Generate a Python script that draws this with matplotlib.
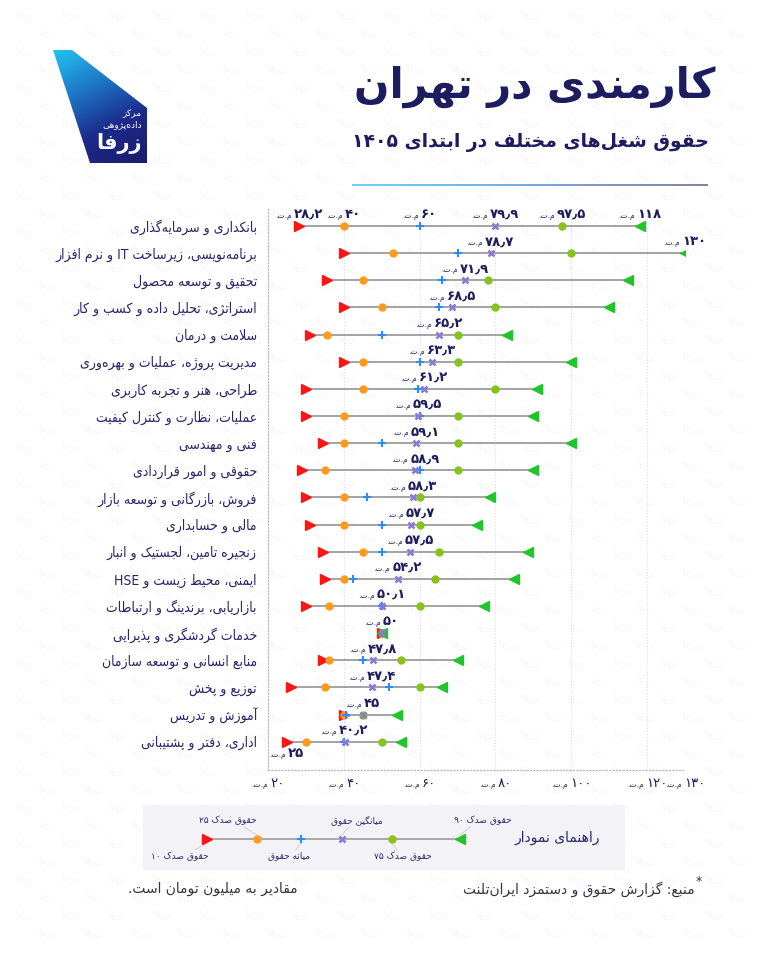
import numpy as np
import matplotlib
matplotlib.use('Agg')
import matplotlib.pyplot as plt
from matplotlib.patches import Polygon, Rectangle
from matplotlib.collections import LineCollection
from matplotlib.colors import LinearSegmentedColormap, to_rgb
from matplotlib.offsetbox import TextArea, HPacker, AnnotationBbox

plt.rcParams['font.family'] = ['DejaVu Sans']

# ---- data (million toman) ----
jobs = [
    'بانکداری و سرمایه‌گذاری',
    'برنامه‌نویسی، زیرساخت IT و نرم افزار',
    'تحقیق و توسعه محصول',
    'استراتژی، تحلیل داده و کسب و کار',
    'سلامت و درمان',
    'مدیریت پروژه، عملیات و بهره‌وری',
    'طراحی، هنر و تجربه کاربری',
    'عملیات، نظارت و کنترل کیفیت',
    'فنی و مهندسی',
    'حقوقی و امور قراردادی',
    'فروش، بازرگانی و توسعه بازار',
    'مالی و حسابداری',
    'زنجیره تامین، لجستیک و انبار',
    'ایمنی، محیط زیست و HSE',
    'بازاریابی، برندینگ و ارتباطات',
    'خدمات گردشگری و پذیرایی',
    'منابع انسانی و توسعه سازمان',
    'توزیع و پخش',
    'آموزش و تدریس',
    'اداری، دفتر و پشتیبانی',
]
p10 = [28.2, 40, 35.5, 40, 31, 40, 30, 30, 34.5, 29, 30, 31, 34.5, 35, 30, 50, 34.5, 26, 40, 25]
p25 = [40, 53, 45, 50, 35.5, 45, 45, 40, 40, 35, 40, 40, 45, 40, 36, 50, 36, 35, 40, 30]
median = [60, 70, 66, 65, 50, 60, 59.5, 60, 50, 60, 46, 50, 50, 42.5, 50, 50, 45, 52, 40.5, 40]
mean = [79.9, 78.7, 71.9, 68.5, 65.2, 63.3, 61.2, 59.5, 59.1, 58.9, 58.3, 57.7, 57.5, 54.2, 50.1, 50, 47.8, 47.4, 45, 40.2]
p75 = [97.5, 100, 78, 80, 70, 70, 80, 70, 70, 70, 60, 60, 65, 64, 60, 50, 55, 60, 45, 50]
p90 = [118, 130, 115, 110, 83, 100, 91, 90, 100, 90, 78.5, 75, 88.5, 85, 77, 50, 70, 66, 54, 55]
xticks = [20, 40, 60, 80, 100, 120, 130]

NAVY = '#1c1c5e'
LBL = '#26266a'
C10, C25, CMED, CMEAN, C75, C90 = '#ff1414', '#ff9a1e', '#2a8cff', '#8b78d6', '#86c31c', '#22c42c'

# ---- minimal persian shaping + visual ordering ----
F = {
    'ا': ('\uFE8D', '\uFE8E'), 'آ': ('\uFE81', '\uFE82'), 'أ': ('\uFE83', '\uFE84'),
    'د': ('\uFEA9', '\uFEAA'), 'ذ': ('\uFEAB', '\uFEAC'), 'ر': ('\uFEAD', '\uFEAE'),
    'ز': ('\uFEAF', '\uFEB0'), 'ژ': ('\uFB8A', '\uFB8B'), 'و': ('\uFEED', '\uFEEE'),
    'ب': ('\uFE8F', '\uFE90', '\uFE91', '\uFE92'), 'پ': ('\uFB56', '\uFB57', '\uFB58', '\uFB59'),
    'ت': ('\uFE95', '\uFE96', '\uFE97', '\uFE98'), 'ث': ('\uFE99', '\uFE9A', '\uFE9B', '\uFE9C'),
    'ج': ('\uFE9D', '\uFE9E', '\uFE9F', '\uFEA0'), 'چ': ('\uFB7A', '\uFB7B', '\uFB7C', '\uFB7D'),
    'ح': ('\uFEA1', '\uFEA2', '\uFEA3', '\uFEA4'), 'خ': ('\uFEA5', '\uFEA6', '\uFEA7', '\uFEA8'),
    'س': ('\uFEB1', '\uFEB2', '\uFEB3', '\uFEB4'), 'ش': ('\uFEB5', '\uFEB6', '\uFEB7', '\uFEB8'),
    'ص': ('\uFEB9', '\uFEBA', '\uFEBB', '\uFEBC'), 'ض': ('\uFEBD', '\uFEBE', '\uFEBF', '\uFEC0'),
    'ط': ('\uFEC1', '\uFEC2', '\uFEC3', '\uFEC4'), 'ظ': ('\uFEC5', '\uFEC6', '\uFEC7', '\uFEC8'),
    'ع': ('\uFEC9', '\uFECA', '\uFECB', '\uFECC'), 'غ': ('\uFECD', '\uFECE', '\uFECF', '\uFED0'),
    'ف': ('\uFED1', '\uFED2', '\uFED3', '\uFED4'), 'ق': ('\uFED5', '\uFED6', '\uFED7', '\uFED8'),
    'ک': ('\uFB8E', '\uFB8F', '\uFB90', '\uFB91'), 'گ': ('\uFB92', '\uFB93', '\uFB94', '\uFB95'),
    'ل': ('\uFEDD', '\uFEDE', '\uFEDF', '\uFEE0'), 'م': ('\uFEE1', '\uFEE2', '\uFEE3', '\uFEE4'),
    'ن': ('\uFEE5', '\uFEE6', '\uFEE7', '\uFEE8'), 'ه': ('\uFEE9', '\uFEEA', '\uFEEB', '\uFEEC'),
    'ی': ('\uFBFC', '\uFBFD', '\uFBFE', '\uFBFF'),
}
LAMALEF = {'ا': ('\uFEFB', '\uFEFC'), 'آ': ('\uFEF5', '\uFEF6'), 'أ': ('\uFEF7', '\uFEF8')}


def _fwd(c):
    return c in F and len(F[c]) == 4


def shape(s):
    res, i, n = [], 0, len(s)
    while i < n:
        c = s[i]
        if c not in F:
            res.append(c)
            i += 1
            continue
        jp = i > 0 and _fwd(s[i - 1])
        if c == 'ل' and i + 1 < n and s[i + 1] in LAMALEF:
            res.append(LAMALEF[s[i + 1]][1 if jp else 0])
            i += 2
            continue
        jn = _fwd(c) and i + 1 < n and s[i + 1] in F
        f = F[c]
        res.append(f[3] if jp and jn else f[1] if jp else f[2] if jn else f[0])
        i += 1
    return ''.join(ch for ch in res if ch != '\u200c')


def _ltr(c):
    return (c.isascii() and c.isalnum()) or '\u06f0' <= c <= '\u06f9'


def fa(s):
    s = shape(s)
    n = len(s)
    lt = [_ltr(c) for c in s]
    for i in range(1, n - 1):
        if s[i] in '٫.,' and lt[i - 1] and lt[i + 1]:
            lt[i] = True
    out, k, idx = [], 0, list(range(n))[::-1]
    while k < n:
        if lt[idx[k]]:
            run = []
            while k < n and lt[idx[k]]:
                run.append(s[idx[k]])
                k += 1
            out.extend(run[::-1])
        else:
            out.append(s[idx[k]])
            k += 1
    return ''.join(out)


PD = str.maketrans('0123456789.', '۰۱۲۳۴۵۶۷۸۹٫')


def fnum(v):
    return ('%g' % v).translate(PD)


UNIT = fa('م.ت.')

# ---- figure ----
fig = plt.figure(figsize=(7.68, 9.6), dpi=100)
ov = fig.add_axes([0, 0, 1, 1])
ov.set_xlim(0, 768)
ov.set_ylim(960, 0)
ov.axis('off')

# very faint watermark tiles
wm = fa('زرفا')
for j, yy in enumerate(np.arange(14, 950, 18)):
    off = 23 if j % 2 else 0
    for xx in np.arange(24 + off, 750, 46):
        ov.text(xx, yy, wm, fontsize=7, color='#f6f6f9', ha='center', va='center', zorder=0)

# logo
pts = [(53, 50), (72, 50), (147, 108), (147, 163), (90, 163)]
gx, gy = np.meshgrid(np.linspace(0, 1, 120), np.linspace(0, 1, 140))
cm = LinearSegmentedColormap.from_list('lg', ['#21c3f0', '#1f78c8', '#1b2a8a', '#1c1c6e'])
im = ov.imshow(0.3 * gx + 0.7 * gy, extent=(53, 147, 163, 50), cmap=cm, aspect='auto', zorder=2)
poly = Polygon(pts, closed=True, facecolor='none', edgecolor='none', transform=ov.transData)
ov.add_patch(poly)
im.set_clip_path(poly)
ov.set_xlim(0, 768)
ov.set_ylim(960, 0)
ov.text(142, 114, fa('مرکز'), fontsize=6.5, color='white', ha='right', va='center', zorder=3)
ov.text(142, 125, fa('داده‌پژوهی'), fontsize=6.5, color='white', ha='right', va='center', zorder=3)
ov.text(142, 143, fa('زرفا'), fontsize=15, weight='bold', color='white', ha='right', va='center', zorder=3)

# title block
ov.text(716, 87, fa('کارمندی در تهران'), fontsize=30, weight='bold', color=NAVY, ha='right', va='center', zorder=3)
ov.text(709, 143, fa('حقوق شغل‌های مختلف در ابتدای ۱۴۰۵'), fontsize=13.5, weight='bold', color=NAVY,
        ha='right', va='center', zorder=3)
xs = np.linspace(352, 708, 120)
segs = [[(xs[i], 185), (xs[i + 1], 185)] for i in range(len(xs) - 1)]
c0, c1 = np.array(to_rgb('#55c8f2')), np.array(to_rgb('#6a6a9c'))
cols = [c0 + (c1 - c0) * t for t in np.linspace(0, 1, len(segs))]
ov.add_collection(LineCollection(segs, colors=cols, linewidths=1.2, zorder=3))

# ---- chart ----
ax = fig.add_axes([268 / 768, 1 - 770 / 960, 417 / 768, 562 / 960])
ax.patch.set_alpha(0)
ax.set_xlim(20, 130)
ax.set_ylim(20.04, -0.66)
rows = np.arange(len(jobs))

ax.hlines(rows, p10, p90, color='#9c9c9c', lw=1.3, zorder=2)
ax.plot(p10, rows, '>', color=C10, ms=7, ls='none', zorder=4)
ax.plot(p25, rows, 'o', color=C25, ms=5, ls='none', zorder=4)
ax.plot(median, rows, '+', color=CMED, ms=6, mew=1.5, ls='none', zorder=4)
ax.plot(mean, rows, 'x', color=CMEAN, ms=5, mew=1.8, ls='none', zorder=5)
ax.plot(p75, rows, 'o', color=C75, ms=5, ls='none', zorder=4)
ax.plot(p90, rows, '<', color=C90, ms=7, ls='none', zorder=4)

ax.set_yticks(rows)
ax.set_yticklabels([fa(j) for j in jobs], fontsize=10, color=LBL, fontstretch='condensed')
ax.tick_params(axis='y', length=0, pad=8)
ax.set_xticks(xticks)
ax.set_xticklabels([])
ax.tick_params(axis='x', length=0)
ax.grid(axis='x', ls=':', color='#dcdce4', lw=0.8)
for s in ('top', 'right'):
    ax.spines[s].set_visible(False)
for s in ('left', 'bottom'):
    ax.spines[s].set_linestyle(':')
    ax.spines[s].set_color('#bdbdc8')
    ax.spines[s].set_linewidth(0.9)


def tag(x, y, v, below=False, xycoords='data', size=9.5, weight='bold', dy=3.5):
    num = TextArea(fnum(v), textprops=dict(size=size, weight=weight, color=NAVY))
    unit = TextArea(UNIT, textprops=dict(size=5.5, color=NAVY))
    box = HPacker(children=[unit, num], align='baseline', pad=0, sep=1.5)
    ab = AnnotationBbox(box, (x, y), xycoords=xycoords,
                        xybox=(0, -dy if below else dy), boxcoords='offset points',
                        box_alignment=(0.5, 1 if below else 0), frameon=False, pad=0,
                        annotation_clip=False, zorder=6)
    ax.add_artist(ab)


for v in (p10[0], p25[0], median[0], mean[0], p75[0], p90[0]):
    tag(v, 0, v)
for r in rows[1:]:
    tag(mean[r], r, mean[r])
tag(p90[1], 1, p90[1])
tag(p10[-1], rows[-1], p10[-1], below=True)
for t in xticks:
    tag(t, 0, t, below=True, xycoords=('data', 'axes fraction'), size=9.5, weight='normal', dy=5)

# ---- legend box ----
ov.add_patch(Rectangle((143, 805), 482, 65, facecolor='#f3f3f7', edgecolor='none', zorder=1))
ov.text(600, 838, fa('راهنمای نمودار'), fontsize=10, color=LBL, ha='right', va='center', zorder=3)
lx = [207, 257, 301, 342, 392, 460]
ov.plot([lx[0], lx[-1]], [839, 839], color='#9c9c9c', lw=1.2, zorder=3)
ov.plot(lx[0], 839, '>', color=C10, ms=7, zorder=4)
ov.plot(lx[1], 839, 'o', color=C25, ms=5, zorder=4)
ov.plot(lx[2], 839, '+', color=CMED, ms=6, mew=1.5, zorder=4)
ov.plot(lx[3], 839, 'x', color=CMEAN, ms=5, mew=1.8, zorder=4)
ov.plot(lx[4], 839, 'o', color=C75, ms=5, zorder=4)
ov.plot(lx[5], 839, '<', color=C90, ms=7, zorder=4)
above = [(228, lx[1], 'حقوق صدک ۲۵'), (357, lx[3], 'میانگین حقوق'), (483, lx[5], 'حقوق صدک ۹۰')]
below = [(180, lx[0], 'حقوق صدک ۱۰'), (289, lx[2], 'میانه حقوق'), (403, lx[4], 'حقوق صدک ۷۵')]
for cx, mx, t in above:
    ov.text(cx, 820, fa(t), fontsize=6.5, color=LBL, ha='center', va='center', zorder=3)
    ov.plot([mx + (cx - mx) * 0.45, mx], [827, 835], color='#c8c8d0', lw=0.6, zorder=3)
for cx, mx, t in below:
    ov.text(cx, 856, fa(t), fontsize=6.5, color=LBL, ha='center', va='center', zorder=3)
    ov.plot([mx + (cx - mx) * 0.45, mx], [850, 843], color='#c8c8d0', lw=0.6, zorder=3)

# ---- footer ----
ov.text(695, 889, fa('منبع: گزارش حقوق و دستمزد ایران‌تلنت'), fontsize=10, color='#333344',
        ha='right', va='center', zorder=3)
ov.text(699, 882, '*', fontsize=9, color='#333344', ha='center', va='center', zorder=3)
ov.text(298, 889, fa('مقادیر به میلیون تومان است.'), fontsize=10, color='#333344',
        ha='right', va='center', zorder=3)

fig.savefig('out.png', dpi=100)
